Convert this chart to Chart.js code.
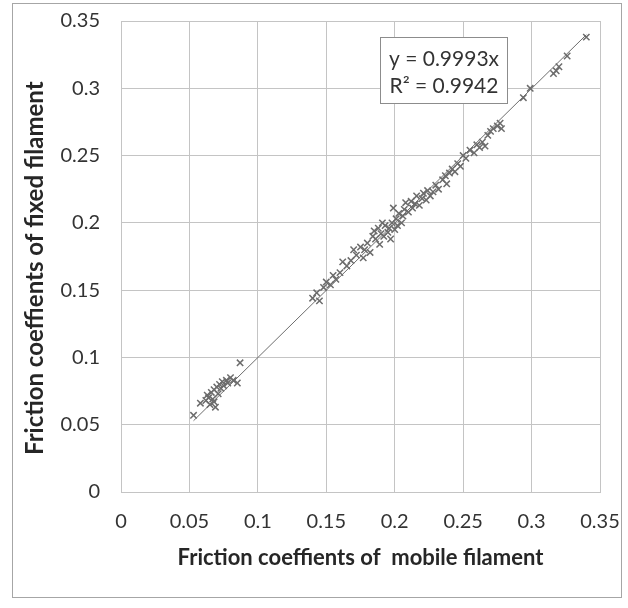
<!DOCTYPE html>
<html>
<head>
<meta charset="utf-8">
<script src="https://cdn.jsdelivr.net/npm/chart.js@4.4.0/dist/chart.umd.min.js"></script>
<style>
  html, body { margin: 0; padding: 0; background: #fff; }
  #wrap { position: relative; width: 628px; height: 608px; }
</style>
</head>
<body>
<div id="wrap"><canvas id="frictionChart"></canvas></div>
<script>
// friction coefficients, mobile filament (x) vs fixed filament (y)
var mobileVals = [
  0.053, 0.058, 0.062, 0.063, 0.064, 0.065, 0.066, 0.067, 0.068, 0.068, 0.069, 0.070, 0.071, 0.072,
  0.073, 0.074, 0.075, 0.077, 0.078, 0.080, 0.082, 0.085, 0.087,
  0.140, 0.143, 0.145, 0.148, 0.150, 0.153, 0.155, 0.157, 0.160, 0.162, 0.165, 0.168, 0.170, 0.172,
  0.175, 0.177, 0.178, 0.180, 0.182, 0.184, 0.185, 0.186, 0.188, 0.189, 0.190, 0.191, 0.192, 0.193,
  0.195, 0.196, 0.197, 0.198, 0.199, 0.200, 0.201, 0.202, 0.203, 0.205, 0.206, 0.207, 0.208, 0.210,
  0.212, 0.213, 0.215, 0.216, 0.218, 0.220, 0.221, 0.223, 0.224, 0.226, 0.228, 0.230, 0.232, 0.235,
  0.237, 0.238, 0.240, 0.242, 0.244, 0.246, 0.248, 0.250, 0.252, 0.255, 0.258, 0.260, 0.262, 0.264,
  0.266, 0.268, 0.270, 0.272, 0.275, 0.277, 0.278,
  0.294, 0.299, 0.316, 0.318, 0.320, 0.326, 0.340
];
var fixedVals = [
  0.057, 0.066, 0.068, 0.072, 0.070, 0.065, 0.074, 0.069, 0.076, 0.067, 0.063, 0.078, 0.073, 0.080,
  0.077, 0.082, 0.079, 0.083, 0.081, 0.085, 0.083, 0.081, 0.096,
  0.144, 0.148, 0.142, 0.152, 0.156, 0.154, 0.161, 0.158, 0.163, 0.171, 0.168, 0.172, 0.180, 0.176,
  0.182, 0.174, 0.180, 0.185, 0.178, 0.190, 0.194, 0.188, 0.196, 0.184, 0.192, 0.200, 0.190, 0.198,
  0.193, 0.196, 0.188, 0.200, 0.211, 0.195, 0.203, 0.198, 0.207, 0.200, 0.205, 0.210, 0.215, 0.208,
  0.216, 0.211, 0.214, 0.220, 0.213, 0.218, 0.222, 0.217, 0.224, 0.220, 0.223, 0.228, 0.225, 0.232,
  0.235, 0.229, 0.237, 0.240, 0.238, 0.244, 0.242, 0.250, 0.248, 0.254, 0.252, 0.258, 0.256, 0.260,
  0.257, 0.265, 0.268, 0.270, 0.272, 0.274, 0.270,
  0.293, 0.300, 0.311, 0.313, 0.316, 0.324, 0.338
];
var trendSlope = 0.9993;
var trendLabel = ["y = 0.9993x", "R\u00b2 = 0.9942"];
var axisTicks = [0, 0.05, 0.1, 0.15, 0.2, 0.25, 0.3, 0.35];

var points = mobileVals.map(function (x, i) { return { x: x, y: fixedVals[i] }; });
var xMin = Math.min.apply(null, mobileVals);
var xMax = Math.max.apply(null, mobileVals);
var trendPts = [{ x: xMin, y: trendSlope * xMin }, { x: xMax, y: trendSlope * xMax }];

var fontFam = "Lato, 'Liberation Sans', sans-serif";
var textCol = '#333333';

// outer frame + equation box
var decorPlugin = {
  id: 'decor',
  beforeDraw: function (chart) {
    var c = chart.ctx;
    c.save();
    c.fillStyle = '#fff';
    c.fillRect(0, 0, chart.width, chart.height);
    c.strokeStyle = '#a6a6a6';
    c.lineWidth = 1;
    c.strokeRect(12.5, 3.5, 609, 594);
    c.restore();
  },
  afterDraw: function (chart) {
    var c = chart.ctx;
    c.save();
    c.fillStyle = '#fff';
    c.fillRect(380, 37, 127, 66);
    c.strokeStyle = '#8c8c8c';
    c.lineWidth = 1;
    c.strokeRect(380.5, 37.5, 127, 66);
    c.fillStyle = textCol;
    c.font = "21px " + fontFam;
    c.textAlign = 'center';
    c.textBaseline = 'middle';
    c.fillText(trendLabel[0], 444, 59);
    c.fillText(trendLabel[1], 444, 86);
    c.restore();
  }
};

// keep the plot box fixed, whatever the label sizes
function fixPad(s) {
  s.paddingLeft = 0; s.paddingRight = 0; s.paddingTop = 0; s.paddingBottom = 0;
}

var ctx = document.getElementById('frictionChart').getContext('2d');
var myChart = new Chart(ctx, {
  type: 'scatter',
  data: {
    datasets: [{
      label: 'Trend',
      type: 'line',
      data: trendPts,
      borderColor: '#6e6e6e',
      borderWidth: 1,
      pointRadius: 0,
      fill: false,
      order: 1
    }, {
      label: 'Friction',
      data: points,
      pointStyle: 'crossRot',
      pointRadius: 4.5,
      borderColor: '#6c6c6c',
      borderWidth: 1.5,
      backgroundColor: '#6c6c6c',
      order: 2
    }]
  },
  options: {
    responsive: true,
    maintainAspectRatio: false,
    animation: false,
    layout: { padding: { left: 0, top: 21, right: 28, bottom: 0 } },
    plugins: { legend: { display: false }, tooltip: { enabled: false } },
    scales: {
      x: {
        type: 'linear',
        min: 0, max: 0.35,
        afterFit: function (s) { s.height = 116; fixPad(s); },
        afterBuildTicks: function (s) { s.ticks = axisTicks.map(function (v) { return { value: v }; }); },
        ticks: {
          color: textCol, font: { family: fontFam, size: 20 }, padding: 18,
          callback: function (v) { return String(parseFloat(v.toFixed(2))); }
        },
        grid: { color: '#c4c4c4', drawTicks: false },
        border: { display: true, color: '#c4c4c4' },
        title: {
          display: true, text: 'Friction coeffients of  mobile filament',
          color: '#262626', font: { family: fontFam, size: 22, weight: 'bold' },
          padding: { top: 0, bottom: 37 }
        }
      },
      y: {
        type: 'linear',
        min: 0, max: 0.35,
        afterFit: function (s) { s.width = 121; fixPad(s); },
        afterBuildTicks: function (s) { s.ticks = axisTicks.map(function (v) { return { value: v }; }); },
        ticks: {
          color: textCol, font: { family: fontFam, size: 20 }, padding: 21,
          callback: function (v) { return String(parseFloat(v.toFixed(2))); }
        },
        grid: { color: '#c4c4c4', drawTicks: false },
        border: { display: true, color: '#c4c4c4' },
        title: {
          display: true, text: 'Friction coeffients of fixed filament    ',
          color: '#262626', font: { family: fontFam, size: 24, weight: 'bold' },
          padding: { top: 21, bottom: 0 }
        }
      }
    }
  },
  plugins: [decorPlugin]
});
</script>
</body>
</html>
